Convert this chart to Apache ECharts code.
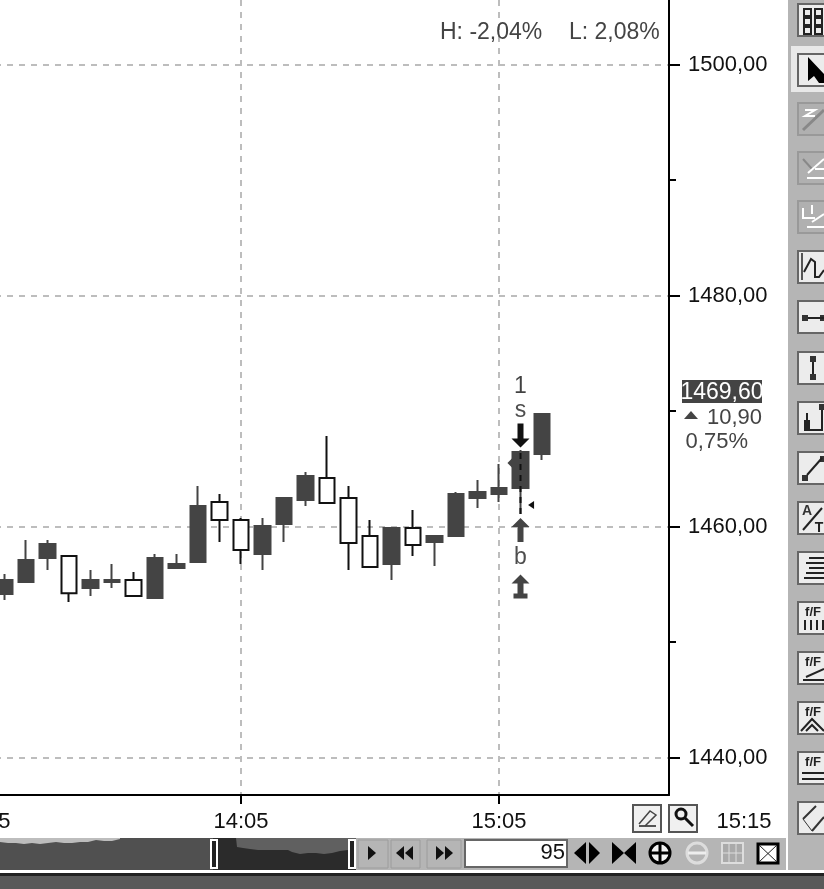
<!DOCTYPE html>
<html><head><meta charset="utf-8">
<style>html,body{margin:0;padding:0;background:#fff}#c{width:824px;height:889px}</style>
<script src="https://cdn.jsdelivr.net/npm/echarts@6/dist/echarts.min.js"></script>
</head><body><div id="c"></div>
<script>
const times = ['13:05','13:10','13:15','13:20','13:25','13:30','13:35','13:40','13:45','13:50','13:55','14:00','14:05','14:10','14:15','14:20','14:25','14:30','14:35','14:40','14:45','14:50','14:55','15:00','15:05','15:10','15:15'];
const barIndex = [1,2,3,4,5,6,7,8,9,10,11,12,13,14,15,16,17,18,19,20,21,22,23,24,25,26];
const opens  = [1454.16,1455.19,1457.27,1457.45,1454.68,1455.19,1455.37,1453.81,1456.41,1456.93,1462.12,1460.56,1457.62,1460.22,1462.29,1464.20,1462.47,1459.18,1456.75,1459.87,1458.66,1459.18,1462.47,1462.81,1463.33,1466.28];
const closes = [1455.37,1457.10,1458.48,1454.22,1455.37,1455.37,1453.98,1457.27,1456.75,1461.77,1460.56,1457.97,1460.04,1462.47,1464.37,1462.03,1458.57,1456.49,1459.87,1458.40,1459.18,1462.81,1462.99,1463.33,1466.45,1469.74];
const lows   = [1453.64,1455.19,1456.23,1453.46,1453.98,1454.68,1453.98,1453.81,1456.41,1456.93,1458.66,1456.75,1456.23,1458.66,1461.77,1462.03,1456.23,1456.49,1455.37,1457.45,1456.58,1459.18,1461.60,1462.12,1461.08,1465.76];
const highs  = [1455.89,1458.83,1458.83,1457.45,1456.23,1456.75,1456.06,1457.62,1457.62,1463.51,1462.81,1460.74,1460.74,1462.47,1464.72,1467.84,1463.51,1460.56,1459.87,1461.43,1459.18,1462.99,1464.03,1465.41,1466.62,1469.74];
const labelledPrices = [1440,1460,1480,1500];
const minorPrices = [1450,1470,1490];
const labelledTimes = [0,12,24];
const overviewX   = [0,8,16,24,32,40,48,56,64,72,80,88,96,104,112,120,128,150,180,213,236,237,243,250,258,268,278,288,292,300,308,316,324,332,340,348,356];
const overviewTop = [28,27,27,26,27,26,27,28,27,27,28,28,30,29,29,31,31,32,32,32,32,23,22,21,20,20,20,20,18,16,17,17,16,17,19,20,20];
const windowStart = 20;
const H='H: -2,04%', L='L: 2,08%', lastPrice='1469,60', change='10,90', pct='0,75%', lastTime='15:15', count='95';
const signalX = 25;
const textMarks = [[25,1472.08,'1','#111'],[25,1470.0,'s','#222'],[25,1457.27,'b','#222']];

const F='"Liberation Sans"';
const DK='#444', G='#b5b5b5';
const arrowDown='path://M6 0H12V15H18L9 24L0 15H6Z', arrowUp='path://M9 0L18 9H12V24H6V9H0Z', arrowBase='path://M9 0L18 9H12V19H16V24H2V19H6V9H0Z', triLeft='path://M0 5L6 0V10Z';

function T(x,y,t,o){return {type:'text',z:20,style:Object.assign({x,y,text:t,font:'22px '+F,fill:DK,textVerticalAlign:'middle'},o||{})};}
function R(x,y,w,h,fill,o,z){return {type:'rect',z:z||20,shape:{x,y,width:w,height:h},style:Object.assign({fill},o||{})};}
function P(points,fill){return {type:'polygon',z:21,shape:{points},style:{fill}};}
function Ln(points,stroke,w){return {type:'polyline',z:21,shape:{points},style:{stroke,lineWidth:w||2,fill:'none'}};}
function C(cx,cy,r,o){return {type:'circle',z:21,shape:{cx,cy,r},style:o};}

const g=[];
g.push(R(788,0,36,870,G,{},1));
g.push(R(356,838,430,32,G,{},1));
g.push(R(0,876,824,13,'#595959'));
g.push(R(0,873,824,3,'#222'));
g.push(R(0,870,824,3,'#fff'));
g.push(R(211,840,6,28,'#222',{stroke:'#fff',lineWidth:2}));
g.push(R(349,840,6,28,'#222',{stroke:'#fff',lineWidth:2}));
g.push(T(440,33,H,{font:'23px '+F}));
g.push(T(569,33,L,{font:'23px '+F}));
g.push(R(682,380,80,23,DK));
g.push(T(722,392.5,lastPrice,{fill:'#fff',textAlign:'center',font:'23px '+F}));
g.push(P([[684,419],[691,411],[698,419]],DK));
g.push(T(762,418,change,{textAlign:'right'}));
g.push(T(748,442,pct,{textAlign:'right'}));
g.push(T(744,822,lastTime,{fill:'#111',textAlign:'center'}));
[[633,805],[669,805]].forEach(b=>g.push(R(b[0],b[1],28,27,'#f0f0f0',{stroke:'#555',lineWidth:2})));
g.push(Ln([[639,826],[656,826]],'#555',2));
g.push(Ln([[639,824],[650,811],[656,815],[645,826]],'#444',1.5));
g.push(C(681,814,5,{fill:'none',stroke:'#111',lineWidth:3}));
g.push(Ln([[685,818],[693,826]],'#111',3));
[[358,30],[391,29],[427,34]].forEach(b=>g.push(R(b[0],840,b[1],28,G,{stroke:'#9c9c9c',lineWidth:1})));
g.push(P([[368,846],[376,853],[368,860]],'#111'));
g.push(P([[404,846],[396,853],[404,860]],'#111'),P([[413,846],[405,853],[413,860]],'#111'));
g.push(P([[436,846],[444,853],[436,860]],'#111'),P([[445,846],[453,853],[445,860]],'#111'));
g.push(R(465,840,102,27,'#fff',{stroke:'#666',lineWidth:2}));
g.push(T(565,853,count,{fill:'#111',textAlign:'right'}));
g.push(P([[586,842],[586,864],[574,853]],'#000'),P([[589,842],[589,864],[600,853]],'#000'));
g.push(P([[612,842],[624,853],[612,864]],'#000'),P([[636,842],[624,853],[636,864]],'#000'));
g.push(C(660,853,10,{fill:'#f4f4f4',stroke:'#000',lineWidth:3}));
g.push(Ln([[651,853],[669,853]],'#000',3),Ln([[660,844],[660,862]],'#000',3));
g.push(C(697,853,10,{fill:G,stroke:'#ddd',lineWidth:3}));
g.push(Ln([[688,853],[706,853]],'#eee',3));
g.push(R(722,843,21,20,'#aaa',{stroke:'#ddd',lineWidth:2}));
g.push(Ln([[729,843],[729,863]],'#ddd',1),Ln([[736,843],[736,863]],'#ddd',1),Ln([[722,853],[743,853]],'#ddd',1));
g.push(R(758,844,20,19,'#fff',{stroke:'#000',lineWidth:3}));
g.push(Ln([[759,845],[777,862]],'#222',1),Ln([[777,845],[759,862]],'#222',1));
const tops=[3,53,102,151,200,250,300,351,401,451,501,551,601,651,701,751,801];
const disabled=[2,3,4];
tops.forEach((y,i)=>{
  if(i===1) g.push(R(791,46,40,46,'#e8e8e8',{},2));
  const off=disabled.includes(i);
  g.push(R(798,y+1,40,32,off?'#b0b0b0':'#ececec',{stroke:off?'#999':'#666',lineWidth:2},20));
});
const y0=tops;
[6,15,24].forEach(d=>g.push(R(804,y0[0]+d,7,7,'none',{stroke:'#222',lineWidth:2}),R(815,y0[0]+d,7,7,'none',{stroke:'#222',lineWidth:2})));
g.push(P([[808,57],[824,74],[824,83],[819,83],[814,76],[808,81]],'#000'));
g.push(Ln([[805,y0[2]+8],[815,y0[2]+8],[805,y0[2]+14],[815,y0[2]+14]],'#fff',2),Ln([[803,y0[2]+28],[824,y0[2]+8]],'#888',3));
g.push(Ln([[803,y0[3]+8],[812,y0[3]+18]],'#888',2),Ln([[808,y0[3]+22],[824,y0[3]+8]],'#fff',2),Ln([[807,y0[3]+27],[824,y0[3]+27]],'#fff',2),Ln([[815,y0[3]+18],[824,y0[3]+18]],'#fff',2));
g.push(Ln([[803,y0[4]+8],[803,y0[4]+18],[815,y0[4]+18]],'#fff',2),Ln([[812,y0[4]+5],[812,y0[4]+14]],'#fff',2),Ln([[807,y0[4]+27],[824,y0[4]+27]],'#fff',2),Ln([[812,y0[4]+22],[824,y0[4]+14]],'#fff',2));
g.push(Ln([[804,y0[5]+22],[811,y0[5]+9],[815,y0[5]+12],[815,y0[5]+27],[819,y0[5]+27],[824,y0[5]+20]],'#222',2),Ln([[802,y0[5]+3],[802,y0[5]+30]],'#555',2));
g.push(R(802,315,6,6,'#333'),Ln([[808,318],[824,318]],'#222',2),R(820,315,6,6,'#333'));
g.push(R(810,356,6,6,'#333'),Ln([[813,362],[813,374]],'#222',2),R(810,374,6,6,'#333'));
g.push(R(804,420,6,10,'#222'),R(819,404,6,6,'#333'),Ln([[807,413],[807,421]],'#222',2),Ln([[822,410],[822,430],[804,430]],'#222',2));
g.push(R(802,475,6,6,'#333'),Ln([[807,475],[822,458]],'#222',2),R(820,456,6,6,'#333'));
g.push(T(807,511,'A',{font:'bold 14px '+F,fill:'#333',textAlign:'center'}),T(819,528,'T',{font:'bold 14px '+F,fill:'#222',textAlign:'center'}),Ln([[803,530],[822,508]],'#222',2));
[[805,558],[802,563],[805,568],[802,573],[800,578]].forEach(p=>g.push(Ln([[p[0]+4,p[1]],[824,p[1]]],'#222',2)));
[12,13,14,15].forEach(i=>{
  g.push(T(813,y0[i]+11,'f/F',{font:'bold 13px '+F,fill:'#222',textAlign:'center'}));
});
[805,811,817,823].forEach(x=>g.push(Ln([[x,y0[12]+19],[x,y0[12]+29]],'#222',2)));
g.push(Ln([[803,y0[13]+29],[824,y0[13]+29]],'#222',2),Ln([[806,y0[13]+26],[824,y0[13]+18]],'#222',2));
g.push(Ln([[801,y0[14]+30],[812,y0[14]+18],[824,y0[14]+30]],'#222',2),Ln([[806,y0[14]+30],[812,y0[14]+24],[818,y0[14]+30]],'#222',2));
g.push(Ln([[802,y0[15]+22],[824,y0[15]+22]],'#222',2),Ln([[802,y0[15]+28],[824,y0[15]+28]],'#222',2));
g.push(Ln([[803,y0[16]+18],[816,y0[16]+5]],'#333',2),Ln([[803,y0[16]+18],[812,y0[16]+30]],'#333',1),Ln([[812,y0[16]+30],[824,y0[16]+16]],'#333',2));

const textSeries=textMarks.map(m=>({type:'scatter',xAxisIndex:0,yAxisIndex:0,z:6,symbolSize:1,silent:true,
  itemStyle:{color:'rgba(0,0,0,0)'},
  label:{show:true,position:'inside',formatter:m[2],color:m[3],fontFamily:F,fontSize:23},data:[[m[0],m[1]]]}));
const marker=(sym,w,h,x,y,color)=>({type:'scatter',xAxisIndex:0,yAxisIndex:0,z:6,symbol:sym,symbolSize:[w,h],silent:true,itemStyle:{color,opacity:1},data:[[x,y]]});
const band=(x1,x2,h,color,z)=>({type:'line',xAxisIndex:1,yAxisIndex:2,z,symbol:'none',silent:true,lineStyle:{width:0},areaStyle:{color,opacity:1},data:[[x1,h],[x2,h]]});

const chart=echarts.init(document.getElementById('c'),null,{renderer:'canvas'});
const xMax=686/21.5, yMin=1436.75, yMax=1505.58;
const dashed={show:true,lineStyle:{color:'#bdbdbd',width:2,type:[6,6]}};
chart.setOption({
  animation:false,
  grid:[{left:-17,top:0,width:686,height:795,outerBoundsMode:'none'},{left:0,top:838,width:356,height:32,outerBoundsMode:'none'}],
  xAxis:[
   {type:'value',gridIndex:0,min:0,max:xMax,
    axisLine:{onZero:false,lineStyle:{color:'#000',width:2}},
    axisTick:{show:true,length:9,customValues:labelledTimes,lineStyle:{color:'#000',width:2}},
    axisLabel:{customValues:labelledTimes,formatter:v=>times[v]||'',color:'#111',fontFamily:F,fontSize:22,margin:16},
    splitLine:dashed},
   {type:'value',gridIndex:1,min:0,max:356,show:false,splitLine:{show:false}}
  ],
  yAxis:[
   {type:'value',gridIndex:0,position:'right',min:yMin,max:yMax,
    axisLine:{show:true,onZero:false,lineStyle:{color:'#000',width:2}},
    axisTick:{show:true,length:11,customValues:labelledPrices,lineStyle:{color:'#000',width:2}},
    axisLabel:{customValues:labelledPrices,formatter:v=>v.toFixed(2).replace('.',','),color:'#111',fontFamily:F,fontSize:22,margin:19},
    splitLine:dashed},
   {type:'value',gridIndex:0,position:'right',min:yMin,max:yMax,
    axisLine:{show:false,onZero:false},
    axisTick:{show:true,length:7,customValues:minorPrices,lineStyle:{color:'#000',width:2}},
    axisLabel:{show:false},splitLine:{show:false}},
   {type:'value',gridIndex:1,min:0,max:32,show:false,splitLine:{show:false}}
  ],
  series:[
   {type:'candlestick',xAxisIndex:0,yAxisIndex:0,z:3,barWidth:16,silent:true,
    itemStyle:{color:DK,color0:'#fff',borderColor:DK,borderColor0:'#111',borderWidth:2},
    data:barIndex.map((x,i)=>[x,opens[i],closes[i],lows[i],highs[i]])},
   {type:'line',xAxisIndex:0,yAxisIndex:0,z:5,symbol:'none',silent:true,lineStyle:{color:'#111',width:2,type:[6,5]},
    data:[[signalX,lows[24]],[signalX,highs[24]]]},
   marker(arrowDown,18,24,signalX,1467.88,'#111'),
   marker(arrowUp,18,24,signalX,1459.70,DK),
   marker(arrowBase,18,24,signalX,1454.81,DK),
   marker(triLeft,6,8,25.49,1461.86,'#111'),
   marker(triLeft,5,10,24.51,1465.5,DK),
   ...textSeries,
   band(0,120,32,'#bdbdbd',1),
   band(120,213,32,'#505050',1),
   band(213,236,32,'#2b2b2b',1),
   band(236,356,32,'#606060',1),
   {type:'line',xAxisIndex:1,yAxisIndex:2,z:2,symbol:'none',silent:true,lineStyle:{width:0},areaStyle:{color:'#505050',opacity:1},
    data:overviewX.slice(0,windowStart).map((x,i)=>[x,overviewTop[i]])},
   {type:'line',xAxisIndex:1,yAxisIndex:2,z:2,symbol:'none',silent:true,lineStyle:{width:0},areaStyle:{color:'#2b2b2b',opacity:1},
    data:overviewX.slice(windowStart-1).map((x,i)=>[x,overviewTop[i+windowStart-1]])}
  ],
  graphic:g
});
</script></body></html>
